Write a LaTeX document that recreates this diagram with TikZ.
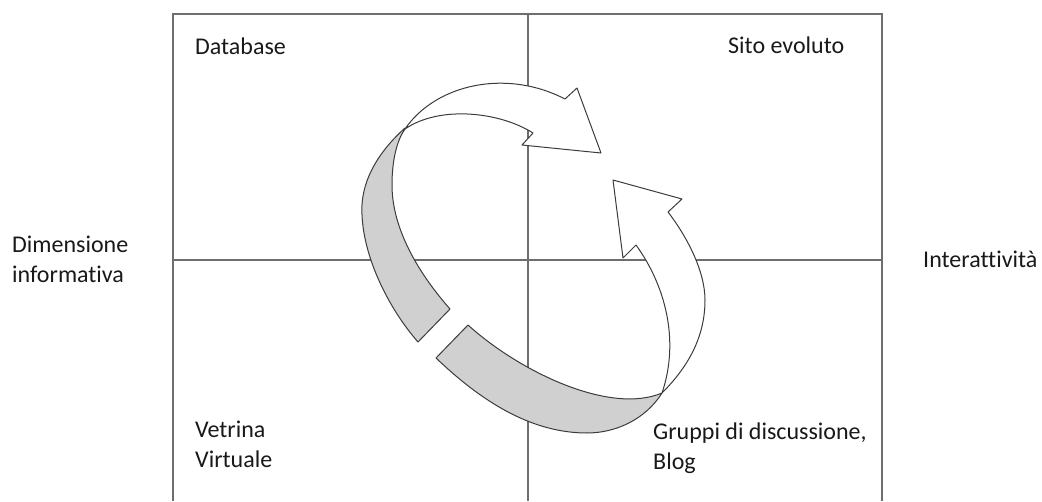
\documentclass[tikz,border=0pt]{standalone}
\usepackage{fontspec}
\setmainfont{Carlito}[Ligatures={NoCommon}]
\definecolor{bandgray}{RGB}{208,208,208}
\definecolor{gridline}{RGB}{110,110,110}
\definecolor{outline}{RGB}{60,60,60}
\tikzset{
  gridl/.style={draw=gridline, line width=1.2pt},
  frontside/.style={fill=white, draw=outline, line width=1pt, line join=round},
  backside/.style={fill=bandgray, draw=outline, line width=1pt, line join=round},
  lbl/.style={inner sep=0pt, anchor=base west, align=left, text=black!90,
    font={\fontsize{24}{30}\selectfont}}
}
\begin{document}
\begin{tikzpicture}[x=1pt,y=-1pt]
\useasboundingbox (0,0) rectangle (1042,501);
% grid
\coordinate (tl) at (173,14);
\coordinate (tr) at (882,14);
\coordinate (bl) at (173,501);
\coordinate (br) at (882,501);
\coordinate (tm) at (528,14);
\coordinate (bm) at (528,501);
\coordinate (ml) at (173,260);
\coordinate (mr) at (882,260);
\draw[gridl] (bl) -- (tl) -- (tr) -- (br);
\draw[gridl] (tm) -- (bm);
\draw[gridl] (ml) -- (mr);
% upper gray band (back side)
\path[backside] (405,128) .. controls (375,155) and (360,185) .. (362,215)
  .. controls (364,260) and (390,310) .. (418,342) -- (450,309)
  .. controls (420,275) and (392,230) .. (392,185)
  .. controls (392,160) and (397,140) .. (405,129) -- cycle;
% top white arrow
\path[frontside] (405,129) .. controls (435,85) and (505,68) .. (565,99)
  -- (577,88) -- (601,153) -- (522,145) -- (533,133)
  .. controls (500,112) and (440,105) .. (405,129) -- cycle;
% lower gray band (back side)
\path[backside] (468,325) .. controls (520,372) and (610,415) .. (662,393)
  .. controls (645,420) and (615,433) .. (587,433)
  .. controls (530,433) and (480,400) .. (436,358) -- cycle;
% right white arrow
\path[frontside] (662,393) .. controls (690,365) and (705,335) .. (705,300)
  .. controls (705,272) and (688,238) .. (668,212)
  -- (682,199) -- (613,180) -- (623,258) -- (636,245)
  .. controls (665,285) and (680,340) .. (662,393) -- cycle;
% labels (base anchor of a two-line node is its last line)
\node[lbl] (db) at (195,54) {Database};
\node[lbl] (sito) at (728,53) {Sito evoluto};
\node[lbl] (dim) at (12,282) {Dimensione\\informativa};
\node[lbl] (inter) at (923,267) {Interattività};
\node[lbl] (vetr) at (195,467) {Vetrina\\Virtuale};
\node[lbl] (grup) at (653,469) {Gruppi di discussione,\\Blog};
\end{tikzpicture}
\end{document}
